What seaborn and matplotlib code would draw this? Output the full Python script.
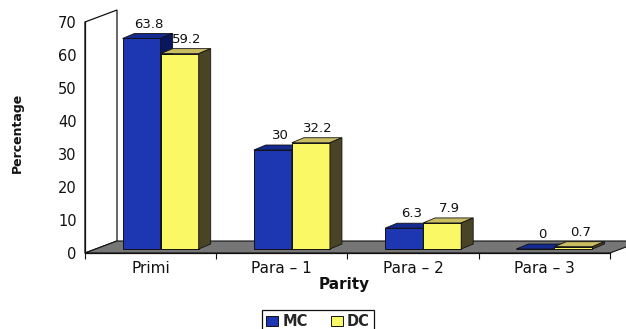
import matplotlib
matplotlib.use("Agg")
import matplotlib.pyplot as plt
from matplotlib.patches import Polygon, Patch
import pandas as pd
import seaborn as sns

# ---- data ----
categories = ["Primi", "Para – 1", "Para – 2", "Para – 3"]
series = ["MC", "DC"]
mc_values = [63.8, 30, 6.3, 0]
dc_values = [59.2, 32.2, 7.9, 0.7]
y_ticks = [0, 10, 20, 30, 40, 50, 60, 70]

df = pd.DataFrame({
    "Parity": categories * 2,
    "Percentage": mc_values + dc_values,
    "Group": ["MC"] * len(categories) + ["DC"] * len(categories),
})

# ---- colours for the three visible faces of each box ----
faces = {
    "MC": {"front": "#1d37b2", "top": "#142a8e", "side": "#0a165e"},
    "DC": {"front": "#fbf866", "top": "#cabd62", "side": "#4a4426"},
}

sns.set_theme(style="white")
plt.rcParams["font.family"] = ["DejaVu Sans"]

W, H = 626, 329
fig = plt.figure(figsize=(W / 100, H / 100), dpi=100)
ax_left, ax_bottom, ax_w, ax_h = 85, 76, 525, 231
ax = fig.add_axes([ax_left / W, ax_bottom / H, ax_w / W, ax_h / H])

sns.barplot(data=df, x="Parity", y="Percentage", hue="Group", order=categories,
            hue_order=series, palette={s: faces[s]["front"] for s in series},
            width=0.58, edgecolor="#111111", linewidth=0.7, saturation=1,
            legend=False, ax=ax)

xmin, xmax = -0.5, len(categories) - 0.5
ax.set_xlim(xmin, xmax)
ax.set_ylim(0, 70)

# pixel -> data unit conversion for the oblique depth offsets
ux = (xmax - xmin) / ax_w
uy = 70 / ax_h

# floor depth and bar placement inside it (pixels)
floor_dx, floor_dy = 32, 12
front_dx, front_dy = 10, 4
depth_dx, depth_dy = 12, 5
fx, fy = front_dx * ux, front_dy * uy
dx, dy = depth_dx * ux, depth_dy * uy
Fx, Fy = floor_dx * ux, floor_dy * uy

# left wall and floor
wall = Polygon([(xmin, 0), (xmin + Fx, Fy), (xmin + Fx, 70 + Fy), (xmin, 70)],
               closed=True, facecolor="white", edgecolor="#111111", lw=0.9,
               zorder=0.5, clip_on=False)
ax.add_patch(wall)
floor = Polygon([(xmin, 0), (xmax, 0), (xmax + Fx, Fy), (xmin + Fx, Fy)],
                closed=True, facecolor="#767676", edgecolor="#111111", lw=0.8,
                zorder=1, clip_on=False)
ax.add_patch(floor)

# extrude each bar into a box
bars = [b for b in ax.patches if b not in (wall, floor)]
n = len(categories)
for i, bar in enumerate(bars):
    group = series[i // n]
    z = 3 + i // n
    x, w, h = bar.get_x(), bar.get_width(), bar.get_height()
    bar.set_x(x + fx)
    bar.set_y(fy)
    bar.set_zorder(z)
    bar.set_clip_on(False)
    top = Polygon([(x + fx, h + fy), (x + w + fx, h + fy),
                   (x + w + fx + dx, h + fy + dy), (x + fx + dx, h + fy + dy)],
                  closed=True, facecolor=faces[group]["top"], edgecolor="#111111",
                  lw=0.6, zorder=z, clip_on=False)
    side = Polygon([(x + w + fx, fy), (x + w + fx + dx, fy + dy),
                    (x + w + fx + dx, h + fy + dy), (x + w + fx, h + fy)],
                   closed=True, facecolor=faces[group]["side"], edgecolor="#111111",
                   lw=0.6, zorder=z, clip_on=False)
    ax.add_patch(top)
    ax.add_patch(side)
    ax.annotate(f"{h:g}", (x + w / 2 + fx + dx / 2, h + fy + dy),
                xytext=(1, 2), textcoords="offset points", ha="center",
                va="bottom", fontsize=9.5, color="#111111", zorder=10,
                annotation_clip=False)

# axes styling
for s in ["top", "right"]:
    ax.spines[s].set_visible(False)
for s in ["left", "bottom"]:
    ax.spines[s].set_color("#111111")
    ax.spines[s].set_linewidth(0.9)
    ax.spines[s].set_zorder(2)

ax.set_yticks(y_ticks)
ax.tick_params(axis="y", which="major", direction="out", length=4, width=0.8,
               color="#111111", labelsize=10.5, labelcolor="#111111", pad=2)
ax.set_xticks(range(n))
ax.set_xticklabels(categories)
ax.set_xticks([xmin + k for k in range(n + 1)], minor=True)
ax.tick_params(axis="x", which="major", length=0, labelsize=11,
               labelcolor="#111111", pad=6)
ax.tick_params(axis="x", which="minor", direction="out", length=4, width=0.8,
               color="#111111", bottom=True)
ax.grid(False)

ax.set_xlabel("")
ax.set_ylabel("")
fig.text(344 / W, 1 - 285 / H, "Parity", ha="center", va="center",
         fontsize=11, fontweight="bold", color="#111111")
fig.text(17 / W, 1 - 133 / H, "Percentage", ha="center", va="center",
         rotation=90, fontsize=9, fontweight="bold", color="#111111",
         family=["DejaVu Sans Condensed", "Liberation Sans Narrow", "DejaVu Sans"])

handles = [Patch(facecolor=faces[s]["front"], edgecolor="#111111", lw=0.7, label=s)
           for s in series]
leg = fig.legend(handles=handles, loc="upper center", ncol=2,
                 bbox_to_anchor=(318 / W, 1 - 310 / H), frameon=True,
                 fancybox=False, edgecolor="#111111", framealpha=1,
                 prop={"weight": "bold", "size": 10.5}, handlelength=0.8,
                 handleheight=0.65, handletextpad=0.3, columnspacing=1.6,
                 borderpad=0.3, borderaxespad=0)
leg.get_frame().set_linewidth(0.9)

fig.savefig("out.png", dpi=100)
